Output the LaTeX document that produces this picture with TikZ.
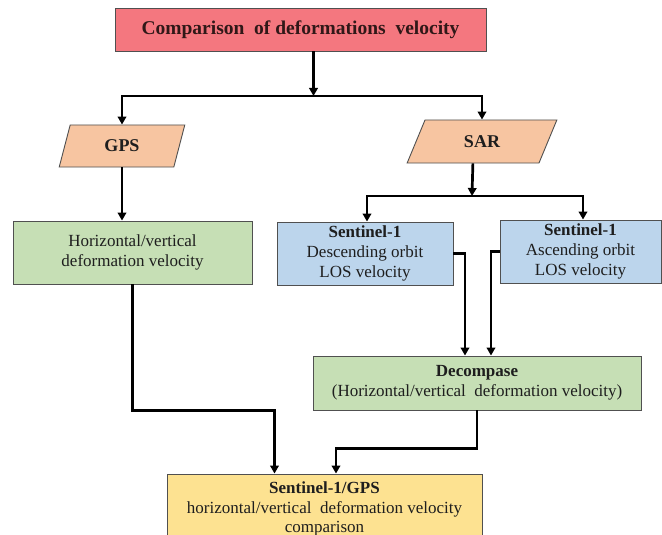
\documentclass[tikz,border=0pt]{standalone}
\usepackage{fontspec}
\setmainfont{Liberation Serif}
\usetikzlibrary{arrows.meta,shapes.geometric,calc}

\definecolor{titlefill}{HTML}{F4777F}
\definecolor{peach}{HTML}{F7C5A1}
\definecolor{leaf}{HTML}{C6DFB5}
\definecolor{sky}{HTML}{BCD5EC}
\definecolor{sand}{HTML}{FDE291}
\definecolor{edge}{HTML}{505050}
\definecolor{ink}{HTML}{1E1E1E}
\definecolor{maroon}{HTML}{301818}

\tikzset{
  box/.style={draw=edge, line width=0.9pt, inner sep=0pt, align=center,
    text=ink, font=\fontsize{17}{20}\selectfont},
  para/.style={trapezium, trapezium stretches=true, draw=edge, line width=0.9pt,
    fill=peach, inner sep=0pt, text=ink, font=\fontsize{18}{20}\selectfont\bfseries},
  arr/.style={draw=black, line width=2.7pt, line join=miter,
    -{Triangle[length=8pt,width=8.5pt]}}
}

\begin{document}
\begin{tikzpicture}[x=1pt,y=-1pt]
  \useasboundingbox (0,0) rectangle (662,535);
  \fill[white] (0,0) rectangle (662,535);
  \clip (0,0) rectangle (662,535);

  % boxes
  \node[box, fill=titlefill, minimum width=371pt, minimum height=43pt,
        text=maroon, font=\fontsize{19.5}{22}\selectfont\bfseries]
        (title) at (300.5,29.5) {Comparison\ \ of deformations\ \ velocity};

  \node[para, minimum width=126pt, minimum height=42pt,
        trapezium left angle=73, trapezium right angle=107]
        (gps) at (122,146) {GPS};
  \node[para, minimum width=150pt, minimum height=43pt,
        trapezium left angle=65, trapezium right angle=115]
        (sar) at (482,141.5) {SAR};

  \node[box, fill=leaf, minimum width=239pt, minimum height=63pt]
        (hv) at (132.5,252.5) {Horizontal/vertical\\deformation velocity};

  \node[box, fill=sky, minimum width=176pt, minimum height=63pt]
        (desc) at (365,253.5) {{\bfseries Sentinel-1}\\Descending orbit\\LOS velocity};
  \node[box, fill=sky, minimum width=161pt, minimum height=63pt]
        (asc) at (580.5,251.5) {{\bfseries Sentinel-1}\\Ascending orbit\\LOS velocity};

  \node[box, fill=leaf, minimum width=328pt, minimum height=54pt]
        (dec) at (477,383) {{\bfseries Decompase}\\(Horizontal/vertical\ \ deformation velocity)};

  \node[box, fill=sand, minimum width=315pt, minimum height=70pt,
        font=\fontsize{17}{19.5}\selectfont]
        (fin) at (324.5,509) {{\bfseries Sentinel-1/GPS}\\horizontal/vertical\ \ deformation velocity\\comparison};

  % branch points
  \coordinate (s1) at (313.5,96);
  \coordinate (s2) at (472,196);

  % connectors
  \draw[arr] ([xshift=13pt]title.south) -- (s1);
  \draw[arr] (s1) -| (gps.north);
  \draw[arr] (s1) -| (sar.north);

  \draw[arr] (gps.south) -- (gps.south |- hv.north);

  \draw[arr] (sar.bottom side) -- (s2);
  \draw[arr] (s2) -| ([xshift=2pt]desc.north);
  \draw[arr] (s2) -| ([xshift=2.5pt]asc.north);

  \draw[arr] (desc.east) -| ([xshift=-12pt]dec.north);
  \draw[arr] (asc.west) -| ([xshift=14pt]dec.north);

  \draw[arr] (hv.south) -- ++(0,126) -| ([xshift=-50pt]fin.north);
  \draw[arr] (dec.south) -- ++(0,38) -| ([xshift=11.5pt]fin.north);
\end{tikzpicture}
\end{document}
